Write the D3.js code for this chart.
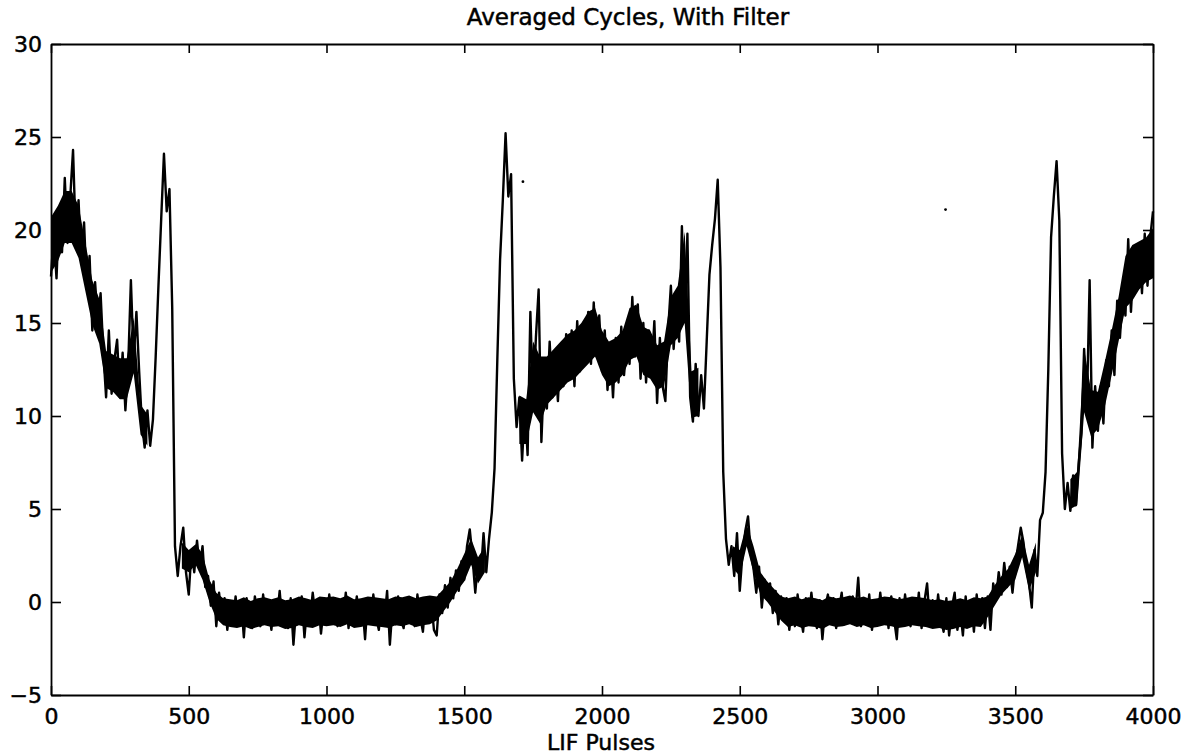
<!DOCTYPE html>
<html>
<head>
<meta charset="utf-8">
<script src="https://cdn.jsdelivr.net/npm/d3@7/dist/d3.min.js"></script>
<style>
	body { margin: 0; background: #fff; }
	text { font-family: "DejaVu Sans", sans-serif; }
</style>
</head>
<body>
<svg width="1202" height="754"></svg>
<script>
// Averaged cycle, every 10 pulses (0 .. 4000)
var signal = [
	17.5, 19.8, 17.4, 21.2, 18.8, 22.8, 19.3, 21.8, 24.3, 19.5,   // 0
	21.6, 18.2, 20.4, 16.8, 18.6, 14.6, 17.2, 15.0, 16.6, 13.4,   // 100
	11.0, 14.6, 11.2, 13.0, 14.1, 11.0, 13.4, 10.3, 12.6, 17.3,   // 200
	13.0, 15.6, 12.4, 9.6, 8.3, 10.3, 8.4, 9.8, 13.2, 17.0,       // 300
	20.6, 24.1, 21.0, 22.2, 15.8, 3.0, 1.4, 3.0, 4.0, 1.6,        // 400
	0.4, 2.8, 1.6, 3.3, 1.8, 3.0, 0.8, 1.4, -0.2, 1.1,            // 500
	-1.3, 0.5, -0.9, 0.2, -1.5, -0.1, -1.2, 0.3, -1.0, 0.1,       // 600
	-1.9, 0.2, -0.8, -1.4, 0.3, -0.6, -1.3, 0.4, -1.0, -0.2,      // 700
	-1.5, 0.1, -0.9, 0.6, -1.2, -0.4, -1.4, 0.2, -2.3, -0.3,      // 800
	-1.1, 0.3, -1.9, -0.2, -1.0, 0.5, -0.8, 0.1, -1.7, -0.3,      // 900
	-1.2, 0.4, -0.7, 0.2, -1.3, 0.1, -1.0, 0.5, -1.4, -0.2,       // 1000
	-0.9, 0.3, -1.2, -0.1, -2.0, 0.2, -1.1, 0.4, -0.8, -1.5,      // 1100
	0.1, -1.0, 0.6, -2.3, -0.2, -1.2, 0.3, -0.9, -1.4, 0.2,       // 1200
	-1.1, 0.0, -1.3, 0.4, -0.8, -1.6, 0.2, -1.0, 0.1, -1.5,       // 1300
	-1.8, 0.4, -0.6, 0.9, -0.3, 1.3, 0.2, 1.7, 0.6, 2.2,          // 1400
	1.2, 3.0, 3.9, 2.4, 0.5, 2.2, 1.4, 3.7, 1.6, 3.4,             // 1500
	4.8, 7.2, 13.0, 18.4, 21.6, 25.2, 21.8, 23.0, 12.0, 9.4,      // 1600
	11.0, 7.6, 10.6, 7.9, 15.6, 10.4, 14.2, 16.8, 8.6, 12.4,      // 1700
	10.4, 14.0, 11.0, 13.2, 10.8, 13.8, 11.6, 14.4, 12.0, 14.6,   // 1800
	11.6, 15.1, 12.4, 14.2, 13.0, 15.6, 12.8, 16.1, 13.2, 15.4,   // 1900
	12.4, 14.6, 11.4, 13.8, 11.0, 14.2, 11.8, 14.8, 12.2, 14.0,   // 2000
	12.8, 16.4, 13.2, 16.0, 12.0, 15.0, 11.8, 14.6, 12.4, 15.1,   // 2100
	10.7, 14.2, 11.6, 10.8, 14.6, 17.0, 13.6, 15.8, 14.0, 20.2,   // 2200
	15.2, 19.8, 11.0, 9.7, 12.8, 10.0, 12.2, 10.4, 14.0, 17.6,    // 2300
	19.2, 20.6, 22.7, 18.0, 7.0, 3.4, 2.0, 3.0, 1.4, 3.7,         // 2400
	0.6, 2.6, 3.8, 4.6, 2.6, 1.8, 0.5, 1.9, -0.3, 1.2,            // 2500
	0.3, 1.0, -0.6, 0.6, -1.2, 0.3, -1.0, 0.2, -1.5, 0.0,         // 2600
	-1.3, 0.4, -0.7, -1.6, 0.2, -1.0, 0.5, -0.8, -1.4, 0.1,       // 2700
	-2.0, -0.3, 0.4, -1.1, 0.2, -1.4, -0.4, 0.5, -1.2, 0.0,       // 2800
	-1.0, 0.3, -0.6, 1.3, -1.3, 0.2, -1.0, 0.4, -1.5, -0.2,       // 2900
	-1.1, 0.5, -0.8, 0.1, -1.4, 0.3, -0.9, -2.0, 0.2, -1.2,       // 3000
	0.4, -0.7, -1.3, 0.2, -1.0, 0.5, -1.4, 0.0, 1.0, -1.1,        // 3100
	0.1, -1.2, 0.4, -0.9, -1.6, 0.2, -1.8, -0.3, 0.5, -1.5,       // 3200
	-0.4, -1.8, 0.3, -1.2, 0.0, -1.6, 0.4, -1.0, 0.2, -1.4,       // 3300
	0.3, -1.5, 1.0, 0.1, 1.6, 0.4, 2.1, 0.8, 1.9, 0.5,            // 3400
	2.0, 3.0, 4.0, 3.2, 1.8, 1.0, -0.3, 2.8, 1.4, 4.4,            // 3500
	4.8, 7.0, 12.5, 19.6, 21.8, 23.7, 20.5, 8.0, 5.0, 6.4,        // 3600
	4.9, 6.8, 5.2, 7.4, 9.1, 13.6, 10.4, 17.3, 8.3, 11.6,         // 3700
	9.2, 11.6, 9.6, 13.0, 11.6, 14.6, 12.2, 16.2, 14.2, 16.6,     // 3800
	15.4, 19.5, 15.6, 18.4, 16.8, 19.2, 16.6, 19.8, 17.0, 19.6,   // 3900
	21.0                                                          // 4000
];
var pulses = d3.range(0, 4001, 10);

// solid core of the noisy trace, every 25 pulses
// (null where the trace is a single steep stroke)
var corePulses = d3.range(0, 4001, 25);
var coreLow = [
	17.7, 18.3, 19.3, 19.3, 18.5, 16.7, 14.9, 13.9,           // 0
	11.5, 11.3, 10.9, 10.9, 12.3, 9.0, 8.4, null,             // 200
	null, null, null, 1.8, 1.6, 2.0, 1.2, 0.0,                // 400
	-0.9, -1.25, -1.35, -1.4, -1.3, -1.45, -1.35, -1.25,      // 600
	-1.35, -1.3, -1.45, -1.4, -1.25, -1.35, -1.4, -1.25,      // 800
	-1.3, -1.25, -1.35, -1.2, -1.4, -1.35, -1.25, -1.3,       // 1000
	-1.35, -1.4, -1.25, -1.3, -1.2, -1.35, -1.25, -1.2,       // 1200
	-1.0, -0.5, 0.0, 0.6, 1.1, 2.0, 1.0, 1.6,                 // 1400
	null, null, null, null, 8.5, 8.5, 10.2, 9.6,              // 1600
	10.6, 11.0, 11.4, 11.8, 12.0, 12.4, 12.8, 13.2,           // 1800
	12.2, 11.6, 11.8, 12.2, 13.0, 13.2, 12.2, 12.0,           // 2000
	11.4, 11.6, 13.8, 14.2, 15.0, 9.9, 10.0, null,            // 2200
	null, null, null, 1.8, 1.4, 3.0, 1.6, 0.4,                // 2400
	0.0, -0.5, -1.0, -1.35, -1.25, -1.4, -1.3, -1.35,         // 2600
	-1.45, -1.25, -1.35, -1.3, -1.2, -1.35, -1.25, -1.4,      // 2800
	-1.35, -1.25, -1.3, -1.4, -1.35, -1.25, -1.3, -1.35,      // 3000
	-1.45, -1.4, -1.5, -1.45, -1.35, -1.45, -1.3, -1.35,      // 3200
	-0.8, -0.2, 0.4, 0.8, 1.2, 2.4, 0.6, 1.6,                 // 3400
	null, null, null, null, 5.0, 5.2, 10.2, 8.9,              // 3600
	9.3, 10.5, 12.2, 14.0, 15.8, 16.2, 16.8, 17.2,            // 3800
	17.4                                                      // 4000
];
var coreHigh = [
	20.7, 21.3, 22.1, 22.1, 21.3, 19.3, 17.3, 16.3,           // 0
	13.5, 13.3, 13.1, 13.1, 15.3, 10.6, 10.1, null,           // 200
	null, null, null, 3.2, 2.8, 3.1, 2.6, 1.2,                // 400
	0.5, 0.2, 0.15, 0.1, 0.25, 0.05, 0.2, 0.25,               // 600
	0.15, 0.25, 0.1, 0.15, 0.3, 0.2, 0.1, 0.3,                // 800
	0.25, 0.3, 0.2, 0.35, 0.15, 0.2, 0.3, 0.25,               // 1000
	0.2, 0.15, 0.3, 0.25, 0.35, 0.2, 0.3, 0.35,               // 1200
	0.3, 0.7, 1.1, 1.8, 2.6, 3.4, 2.4, 3.0,                   // 1400
	null, null, null, null, 11.1, 10.9, 14.0, 13.2,           // 1600
	13.2, 13.6, 14.0, 14.4, 14.6, 15.0, 15.6, 15.8,           // 1800
	14.6, 14.0, 14.2, 14.6, 15.8, 16.0, 14.8, 14.6,           // 2000
	13.8, 14.0, 16.4, 17.0, 19.9, 12.4, 12.6, null,           // 2200
	null, null, null, 3.0, 2.8, 4.2, 3.0, 1.6,                // 2400
	1.1, 0.7, 0.3, 0.2, 0.3, 0.15, 0.25, 0.2,                 // 2600
	0.1, 0.3, 0.2, 0.25, 0.35, 0.2, 0.3, 0.15,                // 2800
	0.2, 0.3, 0.25, 0.15, 0.2, 0.3, 0.25, 0.2,                // 3000
	0.1, 0.15, 0.05, 0.1, 0.2, 0.1, 0.25, 0.2,                // 3200
	0.3, 0.9, 1.4, 1.8, 2.6, 3.6, 2.0, 3.2,                   // 3400
	null, null, null, null, 6.6, 7.0, 13.6, 11.4,             // 3600
	11.3, 12.9, 14.6, 16.4, 18.6, 19.2, 19.4, 19.6,           // 3800
	20.1                                                      // 4000
];

// two lone specks above the trace
var strayPulses = [1713, 3247];
var strayValues = [22.6, 21.1];

var xTicks = [0, 500, 1000, 1500, 2000, 2500, 3000, 3500, 4000];
var yTicks = [-5, 0, 5, 10, 15, 20, 25, 30];

// SVG params
var svg = d3.select("svg"),
	plotLeft = 51,
	plotRight = 1153,
	plotTop = 44,
	plotBottom = 695;

var xScale = d3.scaleLinear().domain([0, 4000]).range([plotLeft, plotRight]),
	yScale = d3.scaleLinear().domain([-5, 30]).range([plotBottom, plotTop]);

// Axes, ticks pointing inwards on all four sides
function styleAxis(g) {
	g.attr("font-family", null).attr("font-size", null);
	g.select(".domain").attr("stroke", "#000").attr("stroke-width", 1.8);
	g.selectAll(".tick line").attr("stroke", "#000").attr("stroke-width", 1.6);
	g.selectAll(".tick text")
		.attr("fill", "#000")
		.attr("stroke", "#000")
		.attr("stroke-width", 0.5)
		.style("font-size", "22px");
}

svg.append("g")
	.attr("transform", "translate(0," + plotBottom + ")")
	.call(d3.axisBottom(xScale).tickValues(xTicks).tickFormat(d => d)
		.tickSizeInner(-9).tickSizeOuter(0).tickPadding(13))
	.call(styleAxis);
svg.append("g")
	.attr("transform", "translate(0," + plotTop + ")")
	.call(d3.axisTop(xScale).tickValues(xTicks).tickFormat("")
		.tickSizeInner(-9).tickSizeOuter(0))
	.call(styleAxis);
svg.append("g")
	.attr("transform", "translate(" + plotLeft + ",0)")
	.call(d3.axisLeft(yScale).tickValues(yTicks).tickFormat(d => d < 0 ? "\u2212" + (-d) : d)
		.tickSizeInner(-10).tickSizeOuter(0).tickPadding(9))
	.call(styleAxis);
svg.append("g")
	.attr("transform", "translate(" + plotRight + ",0)")
	.call(d3.axisRight(yScale).tickValues(yTicks).tickFormat("")
		.tickSizeInner(-10).tickSizeOuter(0))
	.call(styleAxis);

// Solid core of the trace
var core = d3.area()
	.defined((d, i) => coreLow[i] != null)
	.x((d, i) => xScale(corePulses[i]))
	.y0((d, i) => yScale(coreLow[i]))
	.y1((d, i) => yScale(coreHigh[i]));

svg.append("path")
	.datum(coreHigh)
	.attr("fill", "#000")
	.attr("d", core);

// The trace
var line = d3.line()
	.x((d, i) => xScale(pulses[i]))
	.y(d => yScale(d));

svg.append("path")
	.datum(signal)
	.attr("fill", "none")
	.attr("stroke", "#000")
	.attr("stroke-width", 2.4)
	.attr("stroke-linejoin", "round")
	.attr("d", line);

svg.selectAll(".speck")
	.data(strayValues)
	.enter().append("circle")
	.attr("class", "speck")
	.attr("cx", (d, i) => xScale(strayPulses[i]))
	.attr("cy", d => yScale(d))
	.attr("r", 1.4)
	.attr("fill", "#000");

// Titles
svg.append("text")
	.attr("x", 628)
	.attr("y", 25)
	.attr("text-anchor", "middle")
	.attr("stroke", "#000")
	.attr("stroke-width", 0.5)
	.style("font-size", "23px")
	.text("Averaged Cycles, With Filter");

svg.append("text")
	.attr("x", 601)
	.attr("y", 750)
	.attr("text-anchor", "middle")
	.attr("stroke", "#000")
	.attr("stroke-width", 0.5)
	.style("font-size", "22px")
	.text("LIF Pulses");
</script>
</body>
</html>
